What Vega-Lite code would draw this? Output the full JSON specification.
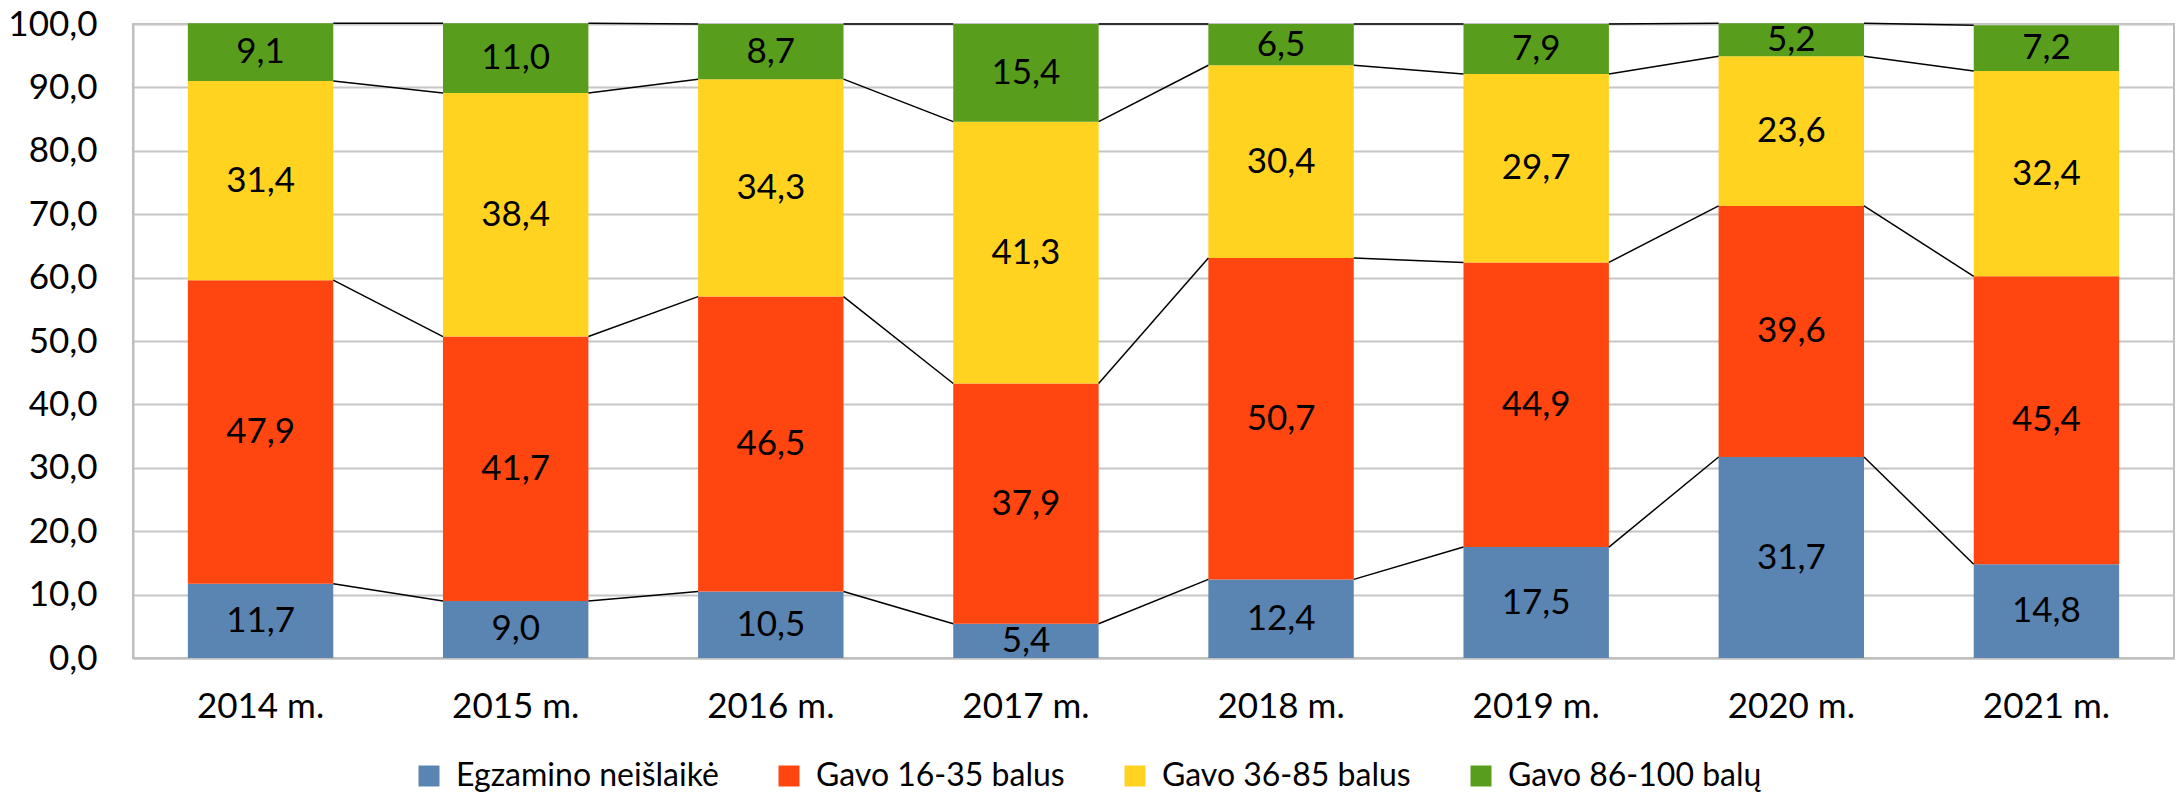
{
  "$schema": "https://vega.github.io/schema/vega-lite/v6.json",
  "width": 2041,
  "height": 634,
  "autosize": {"type": "none"},
  "padding": {"left": 133, "top": 24, "right": 2, "bottom": 135},
  "data": {
    "values": [
      {"year": "2014 m.", "series": "Egzamino neišlaikė", "value": 11.7},
      {"year": "2014 m.", "series": "Gavo 16-35 balus", "value": 47.9},
      {"year": "2014 m.", "series": "Gavo 36-85 balus", "value": 31.4},
      {"year": "2014 m.", "series": "Gavo 86-100 balų", "value": 9.1},
      {"year": "2015 m.", "series": "Egzamino neišlaikė", "value": 9.0},
      {"year": "2015 m.", "series": "Gavo 16-35 balus", "value": 41.7},
      {"year": "2015 m.", "series": "Gavo 36-85 balus", "value": 38.4},
      {"year": "2015 m.", "series": "Gavo 86-100 balų", "value": 11.0},
      {"year": "2016 m.", "series": "Egzamino neišlaikė", "value": 10.5},
      {"year": "2016 m.", "series": "Gavo 16-35 balus", "value": 46.5},
      {"year": "2016 m.", "series": "Gavo 36-85 balus", "value": 34.3},
      {"year": "2016 m.", "series": "Gavo 86-100 balų", "value": 8.7},
      {"year": "2017 m.", "series": "Egzamino neišlaikė", "value": 5.4},
      {"year": "2017 m.", "series": "Gavo 16-35 balus", "value": 37.9},
      {"year": "2017 m.", "series": "Gavo 36-85 balus", "value": 41.3},
      {"year": "2017 m.", "series": "Gavo 86-100 balų", "value": 15.4},
      {"year": "2018 m.", "series": "Egzamino neišlaikė", "value": 12.4},
      {"year": "2018 m.", "series": "Gavo 16-35 balus", "value": 50.7},
      {"year": "2018 m.", "series": "Gavo 36-85 balus", "value": 30.4},
      {"year": "2018 m.", "series": "Gavo 86-100 balų", "value": 6.5},
      {"year": "2019 m.", "series": "Egzamino neišlaikė", "value": 17.5},
      {"year": "2019 m.", "series": "Gavo 16-35 balus", "value": 44.9},
      {"year": "2019 m.", "series": "Gavo 36-85 balus", "value": 29.7},
      {"year": "2019 m.", "series": "Gavo 86-100 balų", "value": 7.9},
      {"year": "2020 m.", "series": "Egzamino neišlaikė", "value": 31.7},
      {"year": "2020 m.", "series": "Gavo 16-35 balus", "value": 39.6},
      {"year": "2020 m.", "series": "Gavo 36-85 balus", "value": 23.6},
      {"year": "2020 m.", "series": "Gavo 86-100 balų", "value": 5.2},
      {"year": "2021 m.", "series": "Egzamino neišlaikė", "value": 14.8},
      {"year": "2021 m.", "series": "Gavo 16-35 balus", "value": 45.4},
      {"year": "2021 m.", "series": "Gavo 36-85 balus", "value": 32.4},
      {"year": "2021 m.", "series": "Gavo 86-100 balų", "value": 7.2}
    ]
  },
  "transform": [
    {"stack": "value", "groupby": ["year"], "sort": [{"field": "series", "order": "ascending"}], "as": ["v0", "v1"]}
  ],
  "layer": [
    {
      "mark": {"type": "bar"},
      "encoding": {
        "x": {
          "field": "year", "type": "nominal",
          "scale": {"paddingInner": 0.43, "paddingOuter": 0.215},
          "axis": {"title": null, "labelAngle": 0, "labelFont": "Lato", "labelFontSize": 35, "labelColor": "#000000", "labelPadding": 31, "ticks": false, "domainColor": "#BFBFBF", "domainWidth": 2, "grid": false}
        },
        "y": {
          "field": "v0", "type": "quantitative",
          "scale": {"domain": [0, 100], "nice": false},
          "axis": {"title": null, "values": [0, 10, 20, 30, 40, 50, 60, 70, 80, 90, 100], "format": ".1f", "labelFont": "Lato", "labelFontSize": 35, "labelColor": "#000000", "labelPadding": 36, "ticks": false, "domainColor": "#BFBFBF", "domainWidth": 2, "grid": true, "gridColor": "#C6C6C6", "gridWidth": 2}
        },
        "y2": {"field": "v1"},
        "color": {
          "field": "series", "type": "nominal",
          "scale": {"domain": ["Egzamino neišlaikė", "Gavo 16-35 balus", "Gavo 36-85 balus", "Gavo 86-100 balų"], "range": ["#5A84B1", "#FF4510", "#FFD320", "#589E1C"]},
          "legend": {"title": null, "orient": "none", "legendX": 280, "legendY": 736, "direction": "horizontal", "columns": 4, "symbolType": "square", "symbolSize": 441, "symbolStrokeWidth": 0, "symbolOpacity": 1, "labelFont": "Lato", "labelFontSize": 32, "labelColor": "#000000", "labelOffset": 11, "columnPadding": 54, "labelLimit": 500}
        }
      }
    },
    {
      "transform": [
        {"window": [{"op": "lead", "field": "v1", "as": "nv1"}, {"op": "lead", "field": "year", "as": "nyear"}], "groupby": ["series"], "sort": [{"field": "year", "order": "ascending"}]},
        {"filter": "isValid(datum.nyear)"}
      ],
      "mark": {"type": "rule", "color": "#000000", "strokeWidth": 1.5},
      "encoding": {
        "x": {"field": "year", "type": "nominal", "bandPosition": 1},
        "x2": {"field": "nyear", "bandPosition": 0},
        "y": {"field": "v1", "type": "quantitative"},
        "y2": {"field": "nv1"}
      }
    },
    {
      "transform": [{"calculate": "(datum.v0 + datum.v1) / 2", "as": "mid"}],
      "mark": {"type": "text", "font": "Lato", "fontSize": 35, "color": "#000000", "baseline": "middle", "align": "center"},
      "encoding": {
        "x": {"field": "year", "type": "nominal"},
        "y": {"field": "mid", "type": "quantitative"},
        "text": {"field": "value", "type": "quantitative", "format": ".1f"}
      }
    }
  ],
  "config": {
    "locale": {"number": {"decimal": ",", "thousands": " ", "grouping": [3], "currency": ["", " €"]}},
    "view": {"stroke": "#BFBFBF", "strokeWidth": 2}
  }
}
